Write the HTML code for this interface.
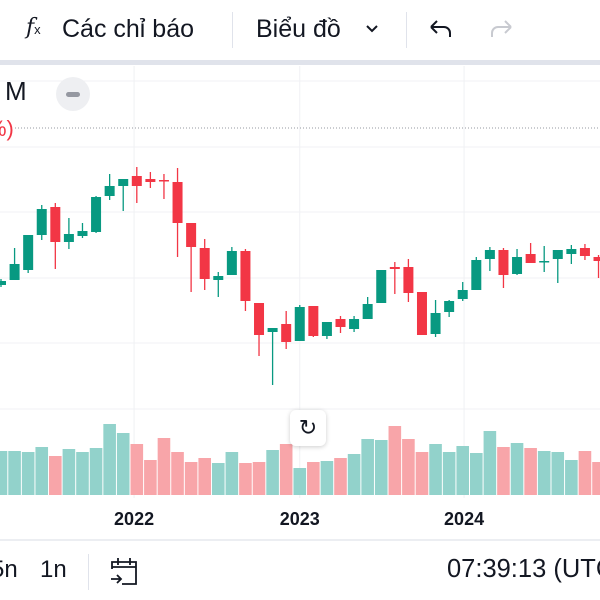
<!DOCTYPE html>
<html><head><meta charset="utf-8">
<style>
html,body{margin:0;padding:0;background:#fff;}
body{width:600px;height:600px;overflow:hidden;position:relative;font-family:"Liberation Sans","DejaVu Sans",sans-serif;color:#131722;}
.t{position:absolute;white-space:nowrap;}
</style></head>
<body>
<div style="position:absolute;left:0;top:0;width:600px;height:60px;">
  <div class="t" style="left:26px;top:15px;"><span style="font-family:'DejaVu Serif',serif;font-style:italic;font-size:22px;">f</span><span style="font-size:13px;">x</span></div>
  <div class="t" style="left:62px;top:15px;font-size:25px;">Các chỉ báo</div>
  <div style="position:absolute;left:232px;top:12px;width:1px;height:36px;background:#e0e3eb;"></div>
  <div class="t" style="left:256px;top:15px;font-size:25px;">Biểu đồ</div>
  <svg style="position:absolute;left:365px;top:24px;" width="14" height="10"><path d="M2 2l5 5 5-5" fill="none" stroke="#131722" stroke-width="2"/></svg>
  <div style="position:absolute;left:406px;top:12px;width:1px;height:36px;background:#e0e3eb;"></div>
  <svg style="position:absolute;left:428px;top:18px;" width="26" height="22"><path d="M3 9h13a6 6 0 0 1 6 6v4M3 9l6-6M3 9l6 6" fill="none" stroke="#131722" stroke-width="2"/></svg>
  <svg style="position:absolute;left:488px;top:18px;" width="26" height="22"><path d="M23 9H10a6 6 0 0 0-6 6v4M23 9l-6-6M23 9l-6 6" fill="none" stroke="#c8cad0" stroke-width="2"/></svg>
</div>
<div style="position:absolute;left:0;top:60px;width:600px;height:5px;background:#e0e3eb;"></div>

<svg id="chart" width="600" height="600" style="position:absolute;left:0;top:0;" xmlns="http://www.w3.org/2000/svg"></svg>

<div class="t" style="left:5px;top:76px;font-size:26px;">M</div>
<div style="position:absolute;left:56px;top:77px;width:34px;height:34px;border-radius:17px;background:#eeeff2;"><div style="position:absolute;left:10px;top:15px;width:14px;height:5px;border-radius:3px;background:#9598a1;"></div></div>
<div class="t" style="left:-13px;top:116px;font-size:22px;color:#f23645;">%)</div>

<div style="position:absolute;left:290px;top:410px;width:36px;height:36px;border-radius:6px;background:#fff;box-shadow:0 1px 5px rgba(0,0,0,0.2);text-align:center;line-height:36px;font-size:22px;">&#8635;</div>

<div style="position:absolute;left:0;top:539px;width:600px;height:2px;background:#eceef2;"></div>
<div class="t" style="left:-9px;top:556px;font-size:24px;">5n</div>
<div class="t" style="left:40px;top:556px;font-size:24px;">1n</div>
<div style="position:absolute;left:88px;top:554px;width:1px;height:36px;background:#e0e3eb;"></div>
<svg style="position:absolute;left:108px;top:555px;" width="32" height="32" viewBox="0 0 32 32"><path d="M4 14V7h24v22H14M4 12h24M10 3v7M22 3v7M3 24h9M9 20l4 4-4 4" fill="none" stroke="#131722" stroke-width="1.8"/></svg>
<div class="t" style="left:447px;top:555px;font-size:25.5px;">07:39:13 (UTC</div>

<script>
const opens  = [115,120,130,165,193,158,164,168,204,214,224,221,220,218,177,152,120,125,149,97,68,76,59,94,64,81,71,81,97,133,133,108,66,88,101,110,141,150,126,146,138,141,146,152,143];
const highs  = [121,152,165,195,197,182,177,204,226,221,233,228,226,232,177,161,128,153,151,97,72,89,95,94,78,84,84,103,130,138,141,108,100,100,118,143,153,152,151,157,154,150,155,156,145];
const lows   = [113,120,127,160,131,151,162,167,200,189,197,212,201,143,108,110,103,125,89,44,15,51,59,63,61,67,68,81,97,106,98,65,63,83,99,110,129,112,125,137,128,117,136,140,122];
const closes = [119,136,165,191,158,166,169,203,214,221,214,218,219,177,153,121,124,149,99,65,72,58,93,64,78,73,81,96,130,131,107,65,87,99,110,140,150,125,143,137,139,150,151,144,139];
const volumes = [44,44,43,48,39,46,43,47,71,62,51,35,57,43,33,37,32,43,32,33,45,51,27,33,34,37,41,56,55,69,56,43,51,43,49,42,64,48,52,47,44,43,35,44,33];
const yearLabels = ["2022","2023","2024"];
const yearIdx = [9.8,22,34.1];
const priceGrid = [319,253,188,122,57,-9];

const svg = document.getElementById('chart');
const NS = 'http://www.w3.org/2000/svg';
function xScale(i){ return 1 + i*13.58; }
function yScale(p){ return 400 - p; }
function vScale(v){ return 495 - v; }
function mk(tag, attrs){ const e=document.createElementNS(NS,tag); for(const k in attrs) e.setAttribute(k,attrs[k]); svg.appendChild(e); return e; }

priceGrid.forEach(p=>{
  const l=mk('line',{x1:0,x2:600,y1:yScale(p),y2:yScale(p),stroke:'#f0f1f4','stroke-width':1});
  
  
});
yearIdx.forEach(i=>{
  const l=mk('line',{x1:xScale(i),x2:xScale(i),y1:66,y2:498,stroke:'#f0f1f4','stroke-width':1});
  
  
});
const dl=mk('line',{x1:15,x2:600,y1:128,y2:128,stroke:'#9598a1','stroke-width':1,'stroke-dasharray':'1 2'});



volumes.forEach((v,i)=>{
  const up = closes[i]>=opens[i];
  const r=mk('rect',{x:xScale(i)-6.3,y:vScale(v),width:12.6,height:v,fill:up?'#92d2cb':'#f8a5a9'});
  
  
});

opens.forEach((o,i)=>{
  const c=closes[i], up=c>=o, col=up?'#089981':'#f23645', x=xScale(i);
  const w=mk('line',{x1:x,x2:x,y1:yScale(highs[i]),y2:yScale(lows[i]),stroke:col,'stroke-width':1.3});
  
  
  const top=yScale(Math.max(o,c)), h=Math.max(1.5,Math.abs(o-c));
  const b=mk('rect',{x:x-5,y:top,width:10,height:h,fill:col});
  
  
});

yearLabels.forEach((t,k)=>{
  const e=mk('text',{x:xScale(yearIdx[k]),y:525,'text-anchor':'middle','font-size':18,'font-weight':'bold',fill:'#131722','font-family':'Liberation Sans, sans-serif'});
  e.textContent=t;
  
  
});
</script>
</body></html>
